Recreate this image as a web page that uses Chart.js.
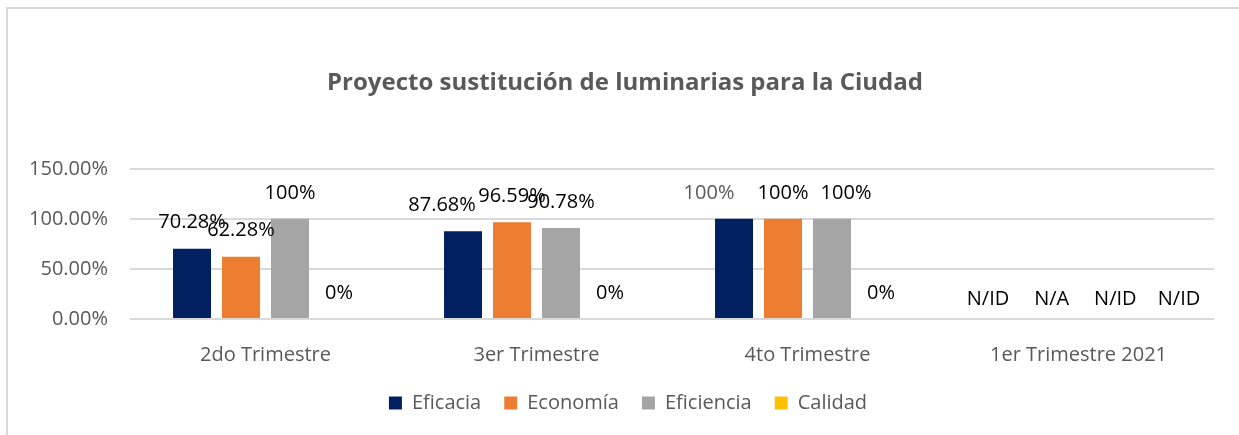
<!DOCTYPE html>
<html>
<head>
<meta charset="utf-8">
<script src="https://cdn.jsdelivr.net/npm/chart.js@4/dist/chart.umd.min.js"></script>
<style>
body{margin:0;background:#fff;}
#frame{position:absolute;left:6px;top:7px;width:1240px;height:440px;border-left:2px solid #d9d9d9;border-top:2px solid #d9d9d9;}
#wrap{position:absolute;left:0;top:0;width:1239px;height:435px;}
</style>
</head>
<body>
<div id="frame"></div>
<div id="wrap"><canvas id="chart"></canvas></div>
<script>
const categories=["2do Trimestre","3er Trimestre","4to Trimestre","1er Trimestre 2021"];
const seriesNames=["Eficacia","Economía","Eficiencia","Calidad"];
const eficacia=[70.28,87.68,100,null];
const economia=[62.28,96.59,100,null];
const eficiencia=[100,90.78,100,null];
const calidad=[0,0,0,null];
const eficaciaLabels=["70.28%","87.68%","100%","N/ID"];
const economiaLabels=["62.28%","96.59%","100%","N/A"];
const eficienciaLabels=["100%","90.78%","100%","N/ID"];
const calidadLabels=["0%","0%","0%","N/ID"];
const yTicks=[0,50,100,150];

const colors=["#002060","#ED7D31","#A5A5A5","#FFC000"];
const allValues=[eficacia,economia,eficiencia,calidad];
const allLabels=[eficaciaLabels,economiaLabels,eficienciaLabels,calidadLabels];

const font="'Open Sans', sans-serif";

// algunas etiquetas estaban movidas a mano en el original
function nudge(i,j){
if(i==0&&j==1)return -21;
if(i==0&&j==2)return -25;
if(i==2&&j==2)return 14;
return 0;
}

// etiquetas sobre las barras
const barLabels={
id:"barLabels",
afterLayout(chart){
// titulo y leyenda centrados en todo el ancho, no en el area del grafico
chart.titleBlock.left+=18;chart.titleBlock.right+=18;
chart.legend.left+=21;chart.legend.right+=21;
},
afterDatasetsDraw(chart){
const c=chart.ctx;
const y=chart.scales.y;
const x=chart.scales.x;
c.save();
c.font="20px "+font;
c.textAlign="center";
c.textBaseline="middle";
chart.data.datasets.forEach((ds,i)=>{
const meta=chart.getDatasetMeta(i);
meta.data.forEach((el,j)=>{
const v=ds.data[j];
let px=el.x+nudge(i,j),py;
if(v==null){
// sin dato: etiquetas un poco más separadas
const cx=x.getPixelForValue(j);
px=cx+(el.x-cx)*1.3+5;
py=y.getPixelForValue(0)-20;
}else{
py=y.getPixelForValue(v)-26;
}
c.fillStyle=(i==0&&j==2)?"#595959":"#000";
c.fillText(allLabels[i][j],px,py);
});
});
c.restore();
}
};

new Chart(document.getElementById("chart"),{
type:"bar",
data:{
labels:categories,
datasets:seriesNames.map((n,i)=>({label:n,data:allValues[i],backgroundColor:colors[i],categoryPercentage:0.723,barPercentage:0.776}))
},
options:{
responsive:true,
maintainAspectRatio:false,
animation:false,
layout:{padding:{left:0,right:25,top:0,bottom:12}},
plugins:{
title:{display:true,text:"Proyecto sustitución de luminarias para la Ciudad",color:"#595959",font:{family:font,size:24,weight:"bold"},padding:{top:69,bottom:71}},
legend:{position:"bottom",labels:{color:"#595959",font:{family:font,size:20},boxWidth:13,boxHeight:13,padding:23}},
tooltip:{enabled:false}
},
scales:{
x:{grid:{display:false},border:{display:false},
afterFit:s=>{s.height=51;},
ticks:{color:"#595959",font:{family:font,size:20},padding:16}},
y:{min:0,max:150,border:{display:false},grid:{color:"#d9d9d9",lineWidth:2,drawTicks:false},
afterBuildTicks:s=>{s.ticks=yTicks.map(v=>({value:v}));},
afterFit:s=>{s.width=130;},
ticks:{color:"#595959",font:{family:font,size:20},padding:22,callback:v=>v.toFixed(2)+"%"}}
}
},
plugins:[barLabels]
});
</script>
</body>
</html>
